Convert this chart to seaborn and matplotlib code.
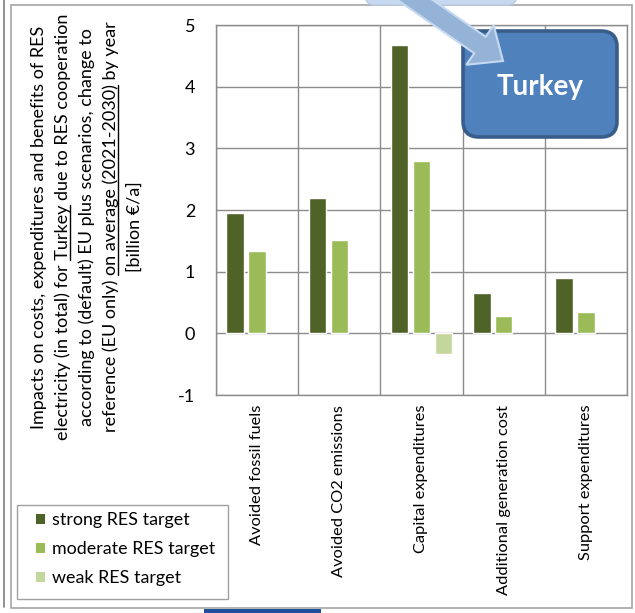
import numpy as np
import pandas as pd
import seaborn as sns
import matplotlib.pyplot as plt
from matplotlib.patches import FancyBboxPatch, FancyArrow, Rectangle, Patch
from matplotlib.lines import Line2D
from matplotlib.transforms import Affine2D
from matplotlib.font_manager import FontProperties

# ---- data -------------------------------------------------------------
categories = ["Avoided fossil fuels", "Avoided CO2 emissions", "Capital expenditures",
              "Additional generation cost", "Support expenditures"]
scenarios = ["strong RES target", "moderate RES target", "weak RES target"]
strong = [1.95, 2.19, 4.68, 0.65, 0.89]
moderate = [1.33, 1.51, 2.79, 0.28, 0.34]
weak = [np.nan, np.nan, -0.33, np.nan, np.nan]
colors = ["#4F6228", "#9BBB59", "#C3D69B"]
y_ticks = [-1, 0, 1, 2, 3, 4, 5]
country = "Turkey"
# axis title lines: (plain text, underlined part, plain text)
ylabel_lines = [
    ("Impacts on costs, expenditures and benefits of RES", "", ""),
    ("electricity (in total) for ", "Turkey", " due to RES cooperation"),
    ("according to (default) EU plus scenarios, change to", "", ""),
    ("reference (EU only) ", "on average (2021-2030)", " by year"),
    ("[billion €/a]", "", ""),
]

W, H = 635, 613
sns.set_theme(style="white")
FONT = ["Lato", "DejaVu Sans"]
plt.rcParams["font.family"] = FONT
plt.rcParams["text.color"] = "black"

fig = plt.figure(figsize=(W / 100, H / 100), dpi=100)
fig.patch.set_facecolor("white")
# pixel coordinates measured from the top-left corner
px = Affine2D().scale(1, -1).translate(0, H)

# ---- bar chart --------------------------------------------------------
ax = fig.add_axes([216 / W, 1 - 395 / H, 411 / W, 370 / H])
df = pd.DataFrame({
    "category": categories * 3,
    "scenario": np.repeat(scenarios, len(categories)),
    "value": strong + moderate + weak,
})
sns.barplot(data=df, x="category", y="value", hue="scenario", order=categories,
            hue_order=scenarios, palette=colors, saturation=1, width=0.8, gap=0.2,
            errorbar=None, legend=False, ax=ax, zorder=3)

grid_c = "#8C8C8C"
ax.set_xlim(-0.5, len(categories) - 0.5)
ax.set_ylim(-1, 5)
ax.set_yticks(y_ticks)
ax.set_yticklabels([str(v) for v in y_ticks])
ax.set_xticks(np.arange(-0.5, len(categories), 1), minor=True)
ax.grid(False)
ax.yaxis.grid(True, color=grid_c, lw=1.0)
ax.xaxis.grid(True, which="minor", color=grid_c, lw=1.0)
ax.set_axisbelow(True)
for s in ax.spines.values():
    s.set_visible(True)
    s.set_color(grid_c)
    s.set_linewidth(1.0)
ax.set_xlabel("")
ax.set_ylabel("")
ax.tick_params(axis="y", length=0, pad=15, labelsize=13, labelcolor="black")
ax.tick_params(axis="x", which="both", length=0, pad=7, labelsize=11.8, labelcolor="black")
plt.setp(ax.get_xticklabels(), rotation=90, ha="center", va="top")

# ---- rotated axis title with underlined parts --------------------------
renderer = fig.canvas.get_renderer()
ylab_size = 13.0
fp = FontProperties(family=FONT, size=ylab_size)


def width_of(s):
    if not s:
        return 0.0
    w1, _, _ = renderer.get_text_width_height_descent(s + "|", fp, ismath=False)
    w2, _, _ = renderer.get_text_width_height_descent("|", fp, ismath=False)
    return w1 - w2


_, lp_h, lp_d = renderer.get_text_width_height_descent("lp", fp, ismath=False)
line_x = [39, 63, 87, 111, 135]
cy = 227
for x0, (a, u, b) in zip(line_x, ylabel_lines):
    full = a + u + b
    fig.text(x0, cy, full, transform=px, rotation=90, ha="center", va="center",
             fontproperties=fp, color="black")
    if u:
        total = width_of(full)
        start = cy + total / 2 - width_of(a)
        end = start - width_of(u)
        ux = x0 + lp_h / 2 - lp_d + 1.5
        fig.add_artist(Line2D([ux, ux], [start, end], transform=px, color="black", lw=1.0))

# ---- legend -------------------------------------------------------------
fig.add_artist(Rectangle((17, 505), 211, 94, transform=px, facecolor="white",
                         edgecolor="#A0A0A0", lw=1.0))
handles = [Patch(facecolor=c, edgecolor="none", label=s) for c, s in zip(colors, scenarios)]
fig.legend(handles=handles, loc="upper left", bbox_to_anchor=(36, 512), bbox_transform=px,
           frameon=False, borderpad=0, fontsize=12.9, handlelength=0.5, handleheight=0.5,
           handletextpad=0.38, labelspacing=0.73, borderaxespad=0)

# ---- frame lines ----------------------------------------------------------
fig.add_artist(Rectangle((11, 5), 621, 603, transform=px, facecolor="none",
                         edgecolor="#A6A6A6", lw=1.2))
fig.add_artist(Line2D([4, 4], [0, 607], transform=px, color="#7F7F7F", lw=1.2))
fig.add_artist(Rectangle((204, 609), 117, 6, transform=px, facecolor="#1F4E9B",
                         edgecolor="none"))

# ---- country callout ------------------------------------------------------
fig.add_artist(FancyBboxPatch((365, -40), 152, 45, boxstyle="round,pad=0,rounding_size=10",
                              transform=px, facecolor="#C6D9F1", edgecolor="#B9CDE5", lw=1.0))
fig.add_artist(FancyBboxPatch((463, 31), 154, 106, boxstyle="round,pad=0,rounding_size=16",
                              transform=px, facecolor="#4F81BD", edgecolor="#385D8A", lw=2.6,
                              zorder=5))
fig.text(540, 87, country, transform=px, ha="center", va="center", fontsize=20,
         fontweight="bold", color="white", zorder=6)
fig.add_artist(FancyArrow(392, -16, 111, 77, width=20, head_width=48, head_length=28,
                          length_includes_head=True, transform=px, facecolor="#95B3D7",
                          edgecolor="#C6D9F1", lw=1.5, zorder=7))

fig.savefig("out.png", dpi=100)
